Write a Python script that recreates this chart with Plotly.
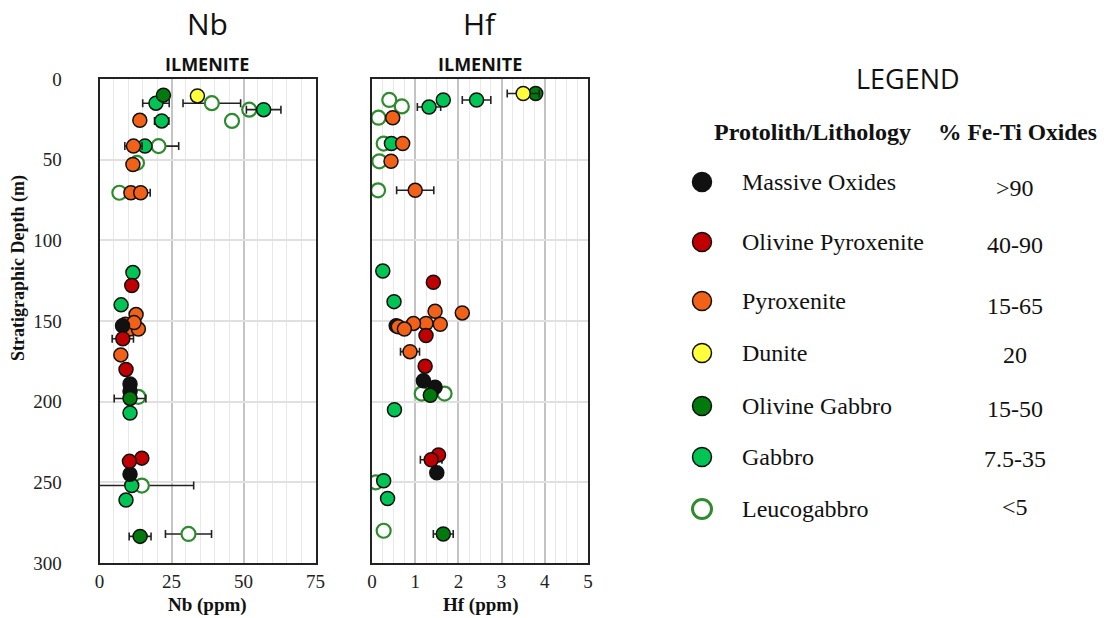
import plotly.graph_objects as go

W, H = 1104, 618

# ---------------- data ----------------
lithologies = ["Massive Oxides", "Olivine Pyroxenite", "Pyroxenite", "Dunite",
               "Olivine Gabbro", "Gabbro", "Leucogabbro"]
fe_ti_pct = [">90", "40-90", "15-65", "20", "15-50", "7.5-35", "<5"]

# Nb (ppm): value, depth, error
nb_val = {
    "Massive Oxides": [8, 10.6, 10.6, 10.6],
    "Olivine Pyroxenite": [11.2, 8.1, 9.2, 14.7, 10.4],
    "Pyroxenite": [14, 11.8, 11.6, 10.9, 14.3, 12.7, 9, 10.5, 13.5, 12, 7.4],
    "Dunite": [34],
    "Olivine Gabbro": [22.2, 10.6, 14.1],
    "Gabbro": [19.6, 57, 21.6, 15.8, 11.6, 7.5, 10.6, 11.2, 9.2],
    "Leucogabbro": [39, 52, 46, 20.5, 13, 6.9, 13.5, 14.7, 30.9],
}
nb_depth = {
    "Massive Oxides": [153, 189, 193.5, 245],
    "Olivine Pyroxenite": [128, 161, 180, 235, 237],
    "Pyroxenite": [25.6, 41.6, 53, 70.5, 70.5, 146, 152, 155, 155, 151, 171],
    "Dunite": [10.5],
    "Olivine Gabbro": [10, 198, 283.5],
    "Gabbro": [15, 19, 26, 41.6, 120, 140, 207, 252, 261],
    "Leucogabbro": [15, 19, 26, 41.6, 52, 70.5, 197, 252, 282],
}
nb_err = {
    "Massive Oxides": [0, 0, 0, 0],
    "Olivine Pyroxenite": [0, 3.7, 0, 0, 0],
    "Pyroxenite": [0, 3, 0, 0, 3.3, 0, 0, 0, 0, 0, 0],
    "Dunite": [0],
    "Olivine Gabbro": [0, 5.5, 3.8],
    "Gabbro": [4.6, 6, 2.5, 0, 0, 0, 0, 0, 0],
    "Leucogabbro": [10, 0, 0, 7, 0, 0, 0, 18, 8],
}

# Hf (ppm): value, depth, error
hf_val = {
    "Massive Oxides": [0.56, 1.19, 1.46, 1.5],
    "Olivine Pyroxenite": [1.42, 1.25, 1.23, 1.54, 1.37],
    "Pyroxenite": [0.48, 0.71, 0.44, 1.0, 2.09, 1.46, 1.58, 1.25, 0.96, 0.61, 0.75, 0.88],
    "Dunite": [3.5],
    "Olivine Gabbro": [3.79, 1.35, 1.65],
    "Gabbro": [1.65, 1.32, 2.42, 0.45, 0.25, 0.51, 0.52, 0.27, 0.36],
    "Leucogabbro": [0.4, 0.69, 0.15, 0.27, 0.17, 0.14, 1.15, 1.68, 0.09, 0.27],
}
hf_depth = {
    "Massive Oxides": [153, 187, 191, 244],
    "Olivine Pyroxenite": [126, 159, 178, 233, 236],
    "Pyroxenite": [24, 40, 51, 69, 145, 144, 152, 151.5, 151.5, 153.6, 155, 169],
    "Dunite": [9],
    "Olivine Gabbro": [9, 196, 282],
    "Gabbro": [13, 17.4, 13, 40, 119, 138, 205, 249, 260],
    "Leucogabbro": [13, 17, 24, 40, 51, 69, 195, 195, 250, 280],
}
hf_err = {
    "Massive Oxides": [0.1, 0, 0, 0],
    "Olivine Pyroxenite": [0, 0, 0, 0, 0.25],
    "Pyroxenite": [0, 0.1, 0, 0.43, 0, 0, 0, 0, 0, 0.1, 0, 0.22],
    "Dunite": [0.37],
    "Olivine Gabbro": [0, 0, 0.23],
    "Gabbro": [0, 0.27, 0.33, 0, 0, 0, 0, 0, 0],
    "Leucogabbro": [0, 0, 0, 0, 0, 0, 0, 0, 0, 0],
}

nb_ticks = [0, 25, 50, 75]
hf_ticks = [0, 1, 2, 3, 4, 5]
depth_ticks = [0, 50, 100, 150, 200, 250, 300]

# ---------------- styles ----------------
fill = {
    "Massive Oxides": "#111111",
    "Olivine Pyroxenite": "#C00000",
    "Pyroxenite": "#F26118",
    "Dunite": "#FFFF3C",
    "Olivine Gabbro": "#007A0C",
    "Gabbro": "#00C453",
    "Leucogabbro": "#FFFFFF",
}
edge = {k: "#111111" for k in fill}
edge["Leucogabbro"] = "#2E8B2E"

nb_order = ["Leucogabbro", "Gabbro", "Pyroxenite", "Massive Oxides",
            "Olivine Pyroxenite", "Olivine Gabbro", "Dunite"]
hf_order = ["Leucogabbro", "Gabbro", "Massive Oxides", "Pyroxenite",
            "Olivine Pyroxenite", "Olivine Gabbro", "Dunite"]

SERIF = "Liberation Serif"
SANS = "Open Sans"

fig = go.Figure()


def add_panel(vals, depths, errs, order, xa, ya):
    for lith in order:
        fig.add_trace(go.Scatter(
            x=vals[lith], y=depths[lith], mode="markers",
            xaxis=xa, yaxis=ya, showlegend=False, name=lith,
            marker=dict(size=14, color=fill[lith],
                        line=dict(color=edge[lith], width=2.2 if lith == "Leucogabbro" else 1.5)),
            error_x=dict(type="data", array=errs[lith], visible=True,
                         color="#222222", thickness=1.6, width=4),
        ))


add_panel(nb_val, nb_depth, nb_err, nb_order, "x", "y")
add_panel(hf_val, hf_depth, hf_err, hf_order, "x2", "y2")

# legend markers (overlay axis in pixel space)
leg_y = [182, 242, 301, 353, 406, 457, 509]
for lith, yy in zip(lithologies, leg_y):
    fig.add_trace(go.Scatter(
        x=[702], y=[yy], mode="markers", xaxis="x3", yaxis="y3", showlegend=False,
        marker=dict(size=19, color=fill[lith],
                    line=dict(color=edge[lith], width=3 if lith == "Leucogabbro" else 1.5)),
        hoverinfo="skip"))


def px(x):
    return x / W


def py(y):
    return 1 - y / H


y_dom = [py(563), py(79)]
axis_common = dict(
    showline=True, mirror=True, linecolor="#222222", linewidth=2, automargin=False,
    zeroline=False, ticks="", tickfont=dict(family=SERIF, size=19, color="#222222"),
)
fig.update_layout(
    template="none",
    width=W, height=H, margin=dict(l=0, r=0, t=0, b=0, pad=0),
    paper_bgcolor="white", plot_bgcolor="rgba(0,0,0,0)",
    xaxis=dict(domain=[px(99.5), px(315.5)], range=[0, 75], tickvals=nb_ticks,
               showgrid=True, gridcolor="#c4c4c4", gridwidth=1.5,
               minor=dict(dtick=5, showgrid=True, gridcolor="#e8e8e8", gridwidth=1.3),
               anchor="y", ticklabelstandoff=0, **axis_common),
    yaxis=dict(domain=y_dom, range=[300, 0], tickvals=depth_ticks,
               showgrid=True, gridcolor="#e0e0e0", gridwidth=2,
               anchor="x", ticklabelstandoff=32, **axis_common),
    xaxis2=dict(domain=[px(372), px(588)], range=[0, 5], tickvals=hf_ticks,
                showgrid=True, gridcolor="#c4c4c4", gridwidth=1.5,
                minor=dict(dtick=0.25, showgrid=True, gridcolor="#e8e8e8", gridwidth=1.3),
                anchor="y2", ticklabelstandoff=0, **axis_common),
    yaxis2=dict(domain=y_dom, range=[300, 0], tickvals=depth_ticks, showticklabels=False,
                showgrid=True, gridcolor="#e0e0e0", gridwidth=2,
                anchor="x2", **axis_common),
    xaxis3=dict(domain=[0, 1], range=[0, W], visible=False, anchor="y3",
                fixedrange=True, automargin=False),
    yaxis3=dict(domain=[0, 1], range=[H, 0], visible=False, anchor="x3",
                fixedrange=True, automargin=False),
)

ann = []


def text(x, y, s, size, family, bold=False, xanchor="center", angle=0, color="#111111"):
    ann.append(dict(x=px(x), y=py(y), xref="paper", yref="paper", showarrow=False,
                    text=f"<b>{s}</b>" if bold else s, xanchor=xanchor, yanchor="middle",
                    textangle=angle, font=dict(family=family, size=size, color=color)))


text(207, 23, "Nb", 30, SANS)
text(480, 23, "Hf", 30, SANS)
text(207, 64, "ILMENITE", 18, SANS, bold=True)
text(480, 64, "ILMENITE", 18, SANS, bold=True)
text(207, 605, "Nb (ppm)", 19, SERIF, bold=True)
text(480, 605, "Hf (ppm)", 19, SERIF, bold=True)
text(18, 268, "Stratigraphic Depth (m)", 18, SERIF, bold=True, angle=-90)

text(908, 79, "LEGEND", 27, SANS)
text(812, 132, "Protolith/Lithology", 24, SERIF, bold=True)
text(1017, 132, "% Fe-Ti Oxides", 23.5, SERIF, bold=True)
pct_y = [188, 245, 306, 355, 409, 459, 507]
for lith, yy, pct, pyy in zip(lithologies, leg_y, fe_ti_pct, pct_y):
    text(740, yy, lith, 24, SERIF, xanchor="left")
    text(1015, pyy, pct, 24, SERIF)

fig.update_layout(annotations=ann)
fig.write_html("out.html", config={"displayModeBar": False},
               post_script="document.body.style.margin='0px';document.body.style.overflow='hidden';")
